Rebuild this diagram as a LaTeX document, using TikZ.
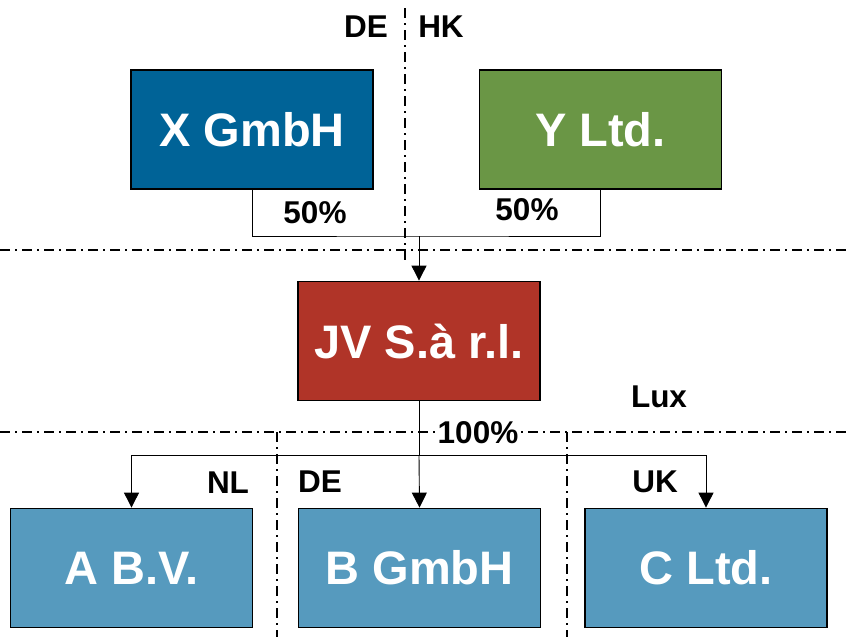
\documentclass[tikz,border=0pt]{standalone}
\usepackage{fontspec}
\setmainfont{Liberation Sans}
\usetikzlibrary{arrows.meta, positioning, calc}
\definecolor{xcolor}{RGB}{0,99,151}
\definecolor{ycolor}{RGB}{106,150,69}
\definecolor{jvcolor}{RGB}{176,52,40}
\definecolor{subcolor}{RGB}{86,154,190}

\begin{document}
\begin{tikzpicture}[
    x=1pt, y=-1pt,
    entity/.style={rectangle, draw=black, line width=1.8pt, minimum width=242pt, minimum height=119pt, text=white, font=\fontsize{47}{50}\selectfont\bfseries},
    border/.style={line width=2pt, dash pattern=on 10pt off 5pt on 2pt off 5pt},
    share/.style={line width=0.9pt},
    arrow/.style={-{Triangle[length=15pt, width=15pt]}, line width=0.9pt},
    tag/.style={font=\fontsize{31.5}{33}\selectfont\bfseries, inner sep=1pt}
]
\useasboundingbox (0,0) rectangle (849,637);

% country borders
\draw[border] (405,8) -- (405,262);
\draw[border] (0,250) -- (849,250);
\draw[border] (0,432) -- (849,432);
\draw[border] (277,432) -- (277,637);
\draw[border] (567,432) -- (567,637);

% entities
\node[entity, fill=xcolor] (x) at (252,129.5) {X GmbH};
\node[entity, fill=ycolor] (y) at (600.5,129.5) {Y Ltd.};
\node[entity, fill=jvcolor] (jv) at (419,341) {JV S.à r.l.};
\node[entity, fill=subcolor] (a) at (131.5,568) {A B.V.};
\node[entity, fill=subcolor] (b) at (419.5,568) {B GmbH};
\node[entity, fill=subcolor] (c) at (706,568) {C Ltd.};

% shareholdings
\coordinate (join) at (419,236);
\draw[share] (x.south) |- (join) -| (y.south);
\draw[arrow] (join) -- (jv.north);
\coordinate (branch) at (419,455);
\draw[share] (jv.south) -- (branch);
\draw[arrow] (branch) -| (a.north);
\draw[arrow] (branch) -| (c.north);
\draw[arrow] (branch) -- (b.north);

% labels
\node[tag] (de1) at (366,27) {DE};
\node[tag] (hk) at (441,27) {HK};
\node[tag] (p1) at (315,213) {50\%};
\node[tag] (p2) at (527,210) {50\%};
\node[tag] (lux) at (659,397) {Lux};
\node[tag, fill=white] (p3) at (478,433) {100\%};
\node[tag] (nl) at (228,483) {NL};
\node[tag] (de2) at (320,482) {DE};
\node[tag] (uk) at (655,482) {UK};
\end{tikzpicture}
\end{document}
